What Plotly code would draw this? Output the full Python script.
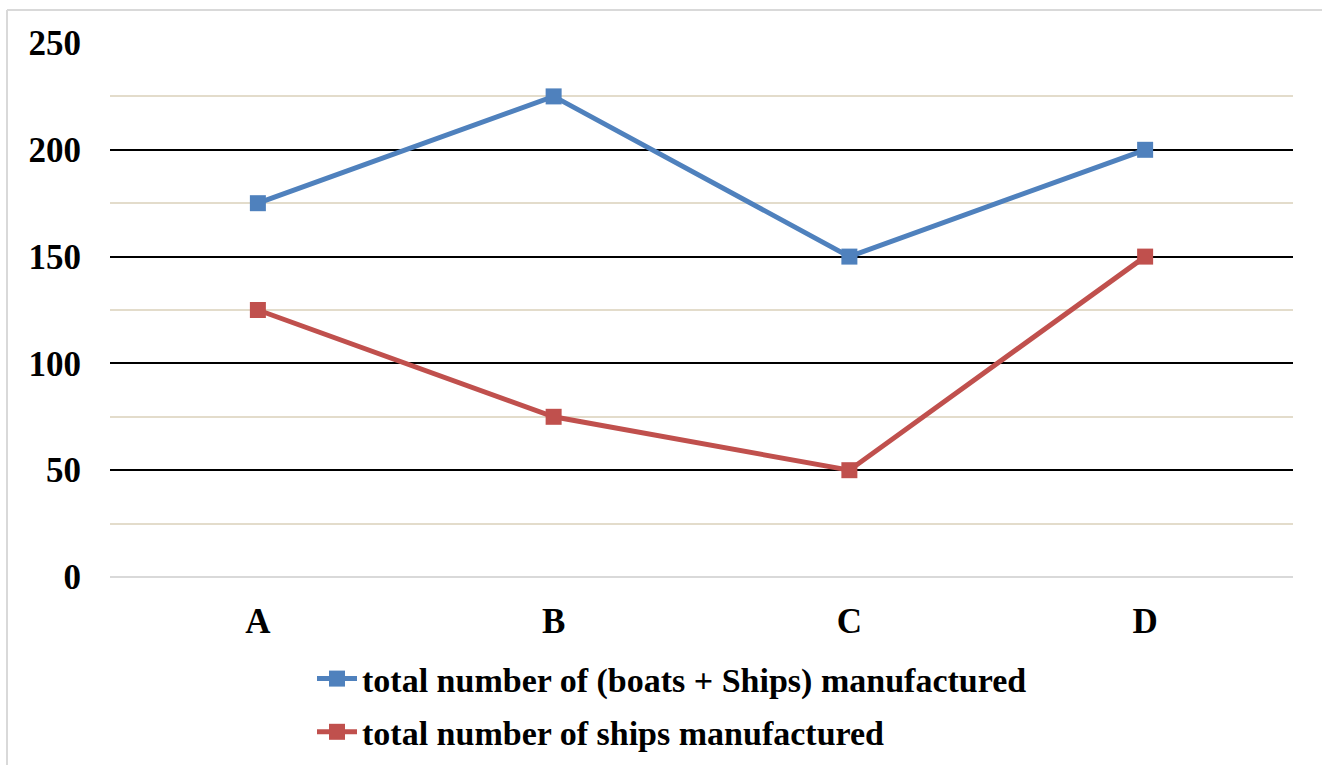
import plotly.graph_objects as go

categories = ["A", "B", "C", "D"]
total_boats_ships = [175, 225, 150, 200]
total_ships = [125, 75, 50, 150]
y_ticks = [0, 50, 100, 150, 200, 250]

W, H = 1322, 765
L, R, T, B = 110, 29, 43, 188
pw, ph = W - L - R, H - T - B

def px_x(p):
    return (p - L) / pw

def px_y(p):
    return (H - B - p) / ph

FONT = "Liberation Serif"

fig = go.Figure()
fig.add_trace(go.Scatter(
    x=categories, y=total_boats_ships, mode="lines+markers",
    name="<b>total number of (boats + Ships) manufactured</b>",
    line=dict(color="#4f81bd", width=5),
    marker=dict(symbol="square", size=16, color="#4f81bd"),
    legendgroup="g1",
))
fig.add_trace(go.Scatter(
    x=categories, y=total_ships, mode="lines+markers",
    name="<b>total number of ships manufactured</b>",
    line=dict(color="#c0504d", width=5),
    marker=dict(symbol="square", size=16, color="#c0504d"),
    legendgroup="g2",
))

fig.update_layout(
    width=W, height=H,
    margin=dict(l=L, r=R, t=T, b=B, autoexpand=False),
    paper_bgcolor="white", plot_bgcolor="white",
    font=dict(family=FONT, color="black"),
    showlegend=True,
    legend=dict(
        x=px_x(312), xanchor="left",
        y=px_y(650), yanchor="top",
        orientation="v",
        font=dict(family=FONT, size=34, color="black"),
        tracegroupgap=6,
        bgcolor="rgba(0,0,0,0)",
        itemwidth=40,
    ),
    xaxis=dict(
        type="category", range=[-0.5, 3.5],
        showgrid=False, showline=False, zeroline=False,
        ticks="", ticklabelstandoff=20,
        tickfont=dict(family=FONT, size=35, color="black"),
        tickvals=categories, ticktext=[f"<b>{c}</b>" for c in categories],
    ),
    yaxis=dict(
        range=[0, 250], tickvals=y_ticks,
        ticktext=[f"<b>{v}</b>" for v in y_ticks],
        showgrid=True, gridcolor="black", gridwidth=2,
        minor=dict(dtick=25, tick0=0, showgrid=True, gridcolor="#e3dccb", gridwidth=2),
        zeroline=True, zerolinecolor="#d9d9d9", zerolinewidth=2,
        showline=False, ticks="", ticklabelstandoff=28,
        tickfont=dict(family=FONT, size=35, color="black"),
    ),
    shapes=[
        dict(type="line", xref="paper", yref="paper",
             x0=px_x(7), x1=px_x(1330), y0=px_y(10), y1=px_y(10),
             line=dict(color="#d9d9d9", width=2)),
        dict(type="line", xref="paper", yref="paper",
             x0=px_x(7), x1=px_x(7), y0=px_y(10), y1=px_y(775),
             line=dict(color="#d9d9d9", width=2)),
    ],
)

fig.write_html(
    "out.html",
    config={"displayModeBar": False},
    post_script="document.body.style.margin='0';document.body.style.overflow='hidden';",
)
